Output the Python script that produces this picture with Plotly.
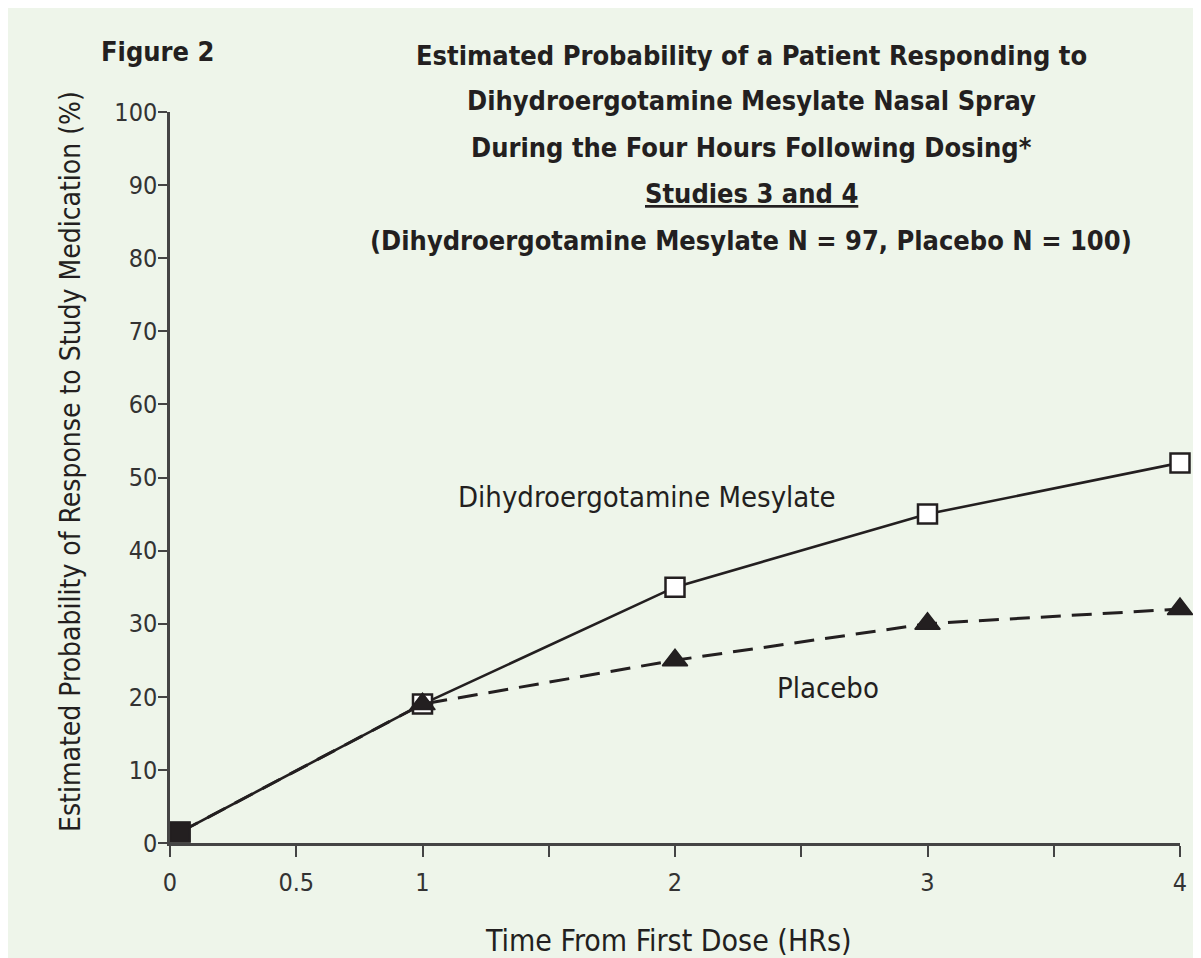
import plotly.graph_objects as go

# ---- data ----
hours = [0.04, 1, 2, 3, 4]
dhe_pct = [1.5, 19, 35, 45, 52]
placebo_pct = [1.5, 19, 25, 30, 32]

x_tickvals = [0, 0.5, 1, 1.5, 2, 2.5, 3, 3.5, 4]
x_ticktext = ["0", "0.5", "1", "", "2", "", "3", "", "4"]
y_tickvals = [0, 10, 20, 30, 40, 50, 60, 70, 80, 90, 100]

title_lines = [
    "Estimated Probability of a Patient Responding to",
    "Dihydroergotamine Mesylate Nasal Spray",
    "During the Four Hours Following Dosing*",
    "<u>Studies 3 and 4</u>",
    "(Dihydroergotamine Mesylate N = 97, Placebo N = 100)",
]

# ---- layout geometry (screen pixels; page body has an 8px margin) ----
OFF = 8
W, H = 1201 - OFF, 958 - OFF
X0, X1 = 170 - OFF, 1180 - OFF      # plot left/right in figure px
Y0, Y1 = 112 - OFF, 843 - OFF       # plot top/bottom in figure px
L, R, T, B = X0, W - X1, Y0, H - Y1
PW, PH = X1 - X0, Y1 - Y0

def px(x):
    return (x - OFF - X0) / PW

def py(y):
    return (Y1 - (y - OFF)) / PH

FONT = "DejaVu Sans Condensed, Liberation Sans Narrow, sans-serif"
INK = "#231f20"
BG = "#eef5ea"

fig = go.Figure()

fig.add_trace(go.Scatter(
    x=hours, y=dhe_pct, mode="lines+markers", name="Dihydroergotamine Mesylate",
    line=dict(color=INK, width=2.6),
    marker=dict(symbol="square", size=19,
                color=[INK, "white", "white", "white", "white"],
                line=dict(color=INK, width=2.5)),
    cliponaxis=False, showlegend=False,
))
fig.add_trace(go.Scatter(
    x=hours, y=placebo_pct, mode="lines+markers", name="Placebo",
    line=dict(color=INK, width=3, dash="20px,11px"),
    marker=dict(symbol=["square", "triangle-up", "triangle-up", "triangle-up", "triangle-up"],
                size=[19, 22, 22, 22, 22], color=INK, opacity=1,
                line=dict(color=INK, width=1.5)),
    cliponaxis=False, showlegend=False,
))

annotations = []
title_y = [55, 101, 147, 193, 240]
for line, yy in zip(title_lines, title_y):
    annotations.append(dict(
        text="<b>" + line + "</b>", x=px(751), y=py(yy), xref="paper", yref="paper",
        xanchor="center", yanchor="middle", showarrow=False,
        font=dict(family=FONT, size=27, color=INK)))
annotations.append(dict(
    text="<b>Figure 2</b>", x=px(99), y=py(52), xref="paper", yref="paper",
    xanchor="left", yanchor="middle", showarrow=False,
    font=dict(family=FONT, size=27, color=INK)))
annotations.append(dict(
    text="Estimated Probability of Response to Study Medication (%)",
    x=px(70), y=py(462), xref="paper", yref="paper", textangle=-90,
    xanchor="center", yanchor="middle", showarrow=False,
    font=dict(family=FONT, size=28, color=INK)))
annotations.append(dict(
    text="Time From First Dose (HRs)",
    x=px(668), y=py(940), xref="paper", yref="paper",
    xanchor="center", yanchor="middle", showarrow=False,
    font=dict(family=FONT, size=30, color=INK)))
annotations.append(dict(
    text="Dihydroergotamine Mesylate",
    x=px(647), y=py(497), xref="paper", yref="paper",
    xanchor="center", yanchor="middle", showarrow=False,
    font=dict(family=FONT, size=29, color=INK)))
annotations.append(dict(
    text="Placebo",
    x=px(828), y=py(688), xref="paper", yref="paper",
    xanchor="center", yanchor="middle", showarrow=False,
    font=dict(family=FONT, size=29, color=INK)))

fig.update_layout(
    width=W, height=H,
    margin=dict(l=L, r=R, t=T, b=B, pad=0),
    paper_bgcolor=BG, plot_bgcolor="rgba(0,0,0,0)",
    font=dict(family=FONT, color=INK),
    annotations=annotations,
    xaxis=dict(range=[0, 4], tickvals=x_tickvals, ticktext=x_ticktext,
               showline=True, linecolor="#444444", linewidth=2.5,
               ticks="outside", ticklen=11, tickwidth=2, tickcolor="#444444",
               showgrid=False, zeroline=False, ticklabelstandoff=4,
               tickfont=dict(family=FONT, size=25, color="#333333")),
    yaxis=dict(range=[0, 100], tickvals=y_tickvals,
               showline=True, linecolor="#444444", linewidth=2.5,
               ticks="outside", ticklen=9, tickwidth=2, tickcolor="#444444",
               showgrid=False, zeroline=False, ticklabelstandoff=-4,
               tickfont=dict(family=FONT, size=25, color="#333333")),
)

fig.write_html("out.html")
